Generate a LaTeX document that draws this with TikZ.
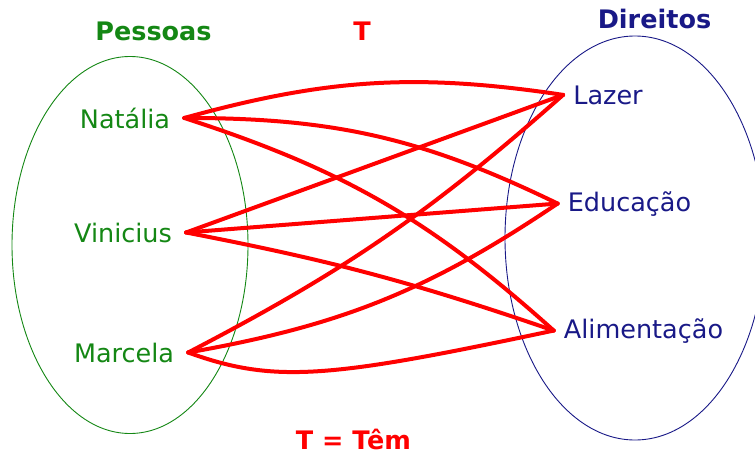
\documentclass[tikz,border=0pt]{standalone}
\usepackage{fontspec}
\setmainfont{DejaVu Sans}
\definecolor{pgreen}{RGB}{20,135,20}
\definecolor{dnavy}{RGB}{25,25,135}
\tikzset{
  pessoa/.style={text=pgreen,anchor=base,inner xsep=14pt,font=\fontsize{25.5}{30}\selectfont},
  direito/.style={text=dnavy,anchor=base,inner xsep=10pt,font=\fontsize{25.5}{30}\selectfont},
  titulo/.style={anchor=base,font=\fontsize{25.5}{30}\selectfont\bfseries},
  tem/.style={red,line width=4pt,line cap=round,line join=round}
}
\begin{document}
\begin{tikzpicture}[x=1pt,y=1pt]
\useasboundingbox (0,0) rectangle (755,-455);
   % conjuntos
   \draw[pgreen,line width=0.9pt] (130,-245) ellipse (118 and 188.5);
   \draw[dnavy,line width=0.9pt] (635,-238) ellipse (130 and 202);

   \node[titulo,text=pgreen] at (153.5,-40) (pessoas) {Pessoas};
   \node[titulo,text=red] at (362,-40) (rel) {T};
   \node[titulo,text=dnavy] at (654.5,-28) (direitos) {Direitos};
   \node[titulo,text=red] at (353.5,-449) (legenda) {T = Têm};

   \node[pessoa] at (125,-128) (natalia) {Natália};
   \node[pessoa] at (123,-242) (vinicius) {Vinicius};
   \node[pessoa] at (124,-362) (marcela) {Marcela};

   \node[direito] at (608,-104) (lazer) {Lazer};
   \node[direito] at (629.5,-211) (educacao) {Educação};
   \node[direito] at (643.5,-338) (alimentacao) {Alimentação};

   % relacao T
   \draw[tem] (natalia.east) to[bend left=12] (lazer.west);
   \draw[tem] (natalia.east) to[bend left=13] (educacao.west);
   \draw[tem] (natalia.east) to[bend left=12] (alimentacao.west);
   \draw[tem] (vinicius.east) -- (lazer.west);
   \draw[tem] (vinicius.east) -- (educacao.west);
   \draw[tem] (vinicius.east) to[bend left=4] (alimentacao.west);
   \draw[tem] (marcela.east) to[bend right=7] (lazer.west);
   \draw[tem] (marcela.east) to[bend right=12] (educacao.west);
   \draw[tem] (marcela.east) .. controls (275,-384) and (330,-378) .. (alimentacao.west);

\end{tikzpicture}
\end{document}
